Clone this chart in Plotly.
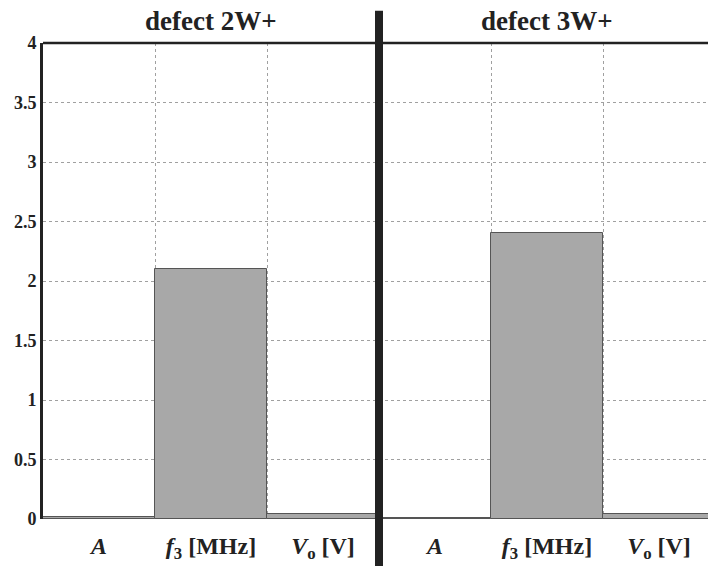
import plotly.graph_objects as go

categories = ["A", "f3", "Vo"]
tick_labels = ["<b><i>A</i></b>", "<b><i>f</i><sub>3</sub> [MHz]</b>", "<b><i>V</i><sub>o</sub> [V]</b>"]
panel_titles = ["<b>defect 2W+</b>", "<b>defect 3W+</b>"]
values_2w = [0.015, 2.1, 0.045]
values_3w = [0.012, 2.4, 0.045]
y_ticks = [0, 0.5, 1, 1.5, 2, 2.5, 3, 3.5, 4]
y_ticktext = ["<b>0</b>", "<b>0.5</b>", "<b>1</b>", "<b>1.5</b>", "<b>2</b>", "<b>2.5</b>", "<b>3</b>", "<b>3.5</b>", "<b>4</b>"]

W, H = 708, 566
ml, mr, mt, mb = 43, 0, 43, 47
pw = W - ml - mr
bar_px = 112
split = 3 * bar_px / pw  # panel 1 holds 3 full bars
right_range = (pw - 3 * bar_px) / bar_px

xpos = [0.5, 1.5, 2.5]
font_serif = "Liberation Serif, 'Times New Roman', Times, serif"
bar_color = "#a8a8a8"
edge_color = "#555555"
grid_color = "#a0a0a0"
ink = "#222222"

fig = go.Figure()
fig.add_trace(go.Bar(x=xpos, y=values_2w, width=1, marker=dict(color=bar_color, line=dict(color=edge_color, width=1)),
                     xaxis="x", yaxis="y", showlegend=False))
fig.add_trace(go.Bar(x=xpos, y=values_3w, width=1, marker=dict(color=bar_color, line=dict(color=edge_color, width=1)),
                     xaxis="x2", yaxis="y2", showlegend=False))

xaxis_common = dict(
    tickmode="array", tickvals=xpos, ticktext=tick_labels, showgrid=False, zeroline=False,
    ticks="", showline=False, ticklabelstandoff=10,
    tickfont=dict(family=font_serif, size=24, color=ink),
    minor=dict(tickvals=[1, 2], showgrid=True, gridcolor=grid_color, griddash="dot", gridwidth=1, ticks=""),
)
yaxis_common = dict(
    range=[0, 4], tickmode="array", tickvals=y_ticks, showgrid=True, gridcolor=grid_color,
    griddash="dot", gridwidth=1, zeroline=False,
)

fig.update_layout(
    width=W, height=H, margin=dict(l=ml, r=mr, t=mt, b=mb),
    paper_bgcolor="white", plot_bgcolor="white", bargap=0,
    xaxis=dict(domain=[0, split], range=[0, 3], anchor="y", **xaxis_common),
    xaxis2=dict(domain=[split, 1], range=[0, right_range], anchor="y2", **xaxis_common),
    yaxis=dict(anchor="x", ticktext=y_ticktext, showline=True, linecolor=ink, linewidth=3,
               ticks="", ticklen=0, ticklabelstandoff=0,
               tickfont=dict(family=font_serif, size=18, color=ink), **yaxis_common),
    yaxis2=dict(anchor="x2", matches="y", showticklabels=False, showline=False, ticks="", **yaxis_common),
)

# top border line at the upper edge of the plots
fig.add_shape(type="line", xref="paper", yref="paper", x0=0, x1=1, y0=1, y1=1,
              line=dict(color=ink, width=2.5))
# thick divider between the two panels
fig.add_shape(type="line", xref="paper", yref="paper", x0=split, x1=split, y0=-0.12, y1=1.068,
              line=dict(color=ink, width=8))

for xa, title in zip(["x", "x2"], panel_titles):
    fig.add_annotation(text=title, xref=xa, yref="paper", x=1.5, y=1.0, yanchor="bottom", yshift=5,
                       showarrow=False, font=dict(family=font_serif, size=27, color=ink))

fig.write_html("out.html")
